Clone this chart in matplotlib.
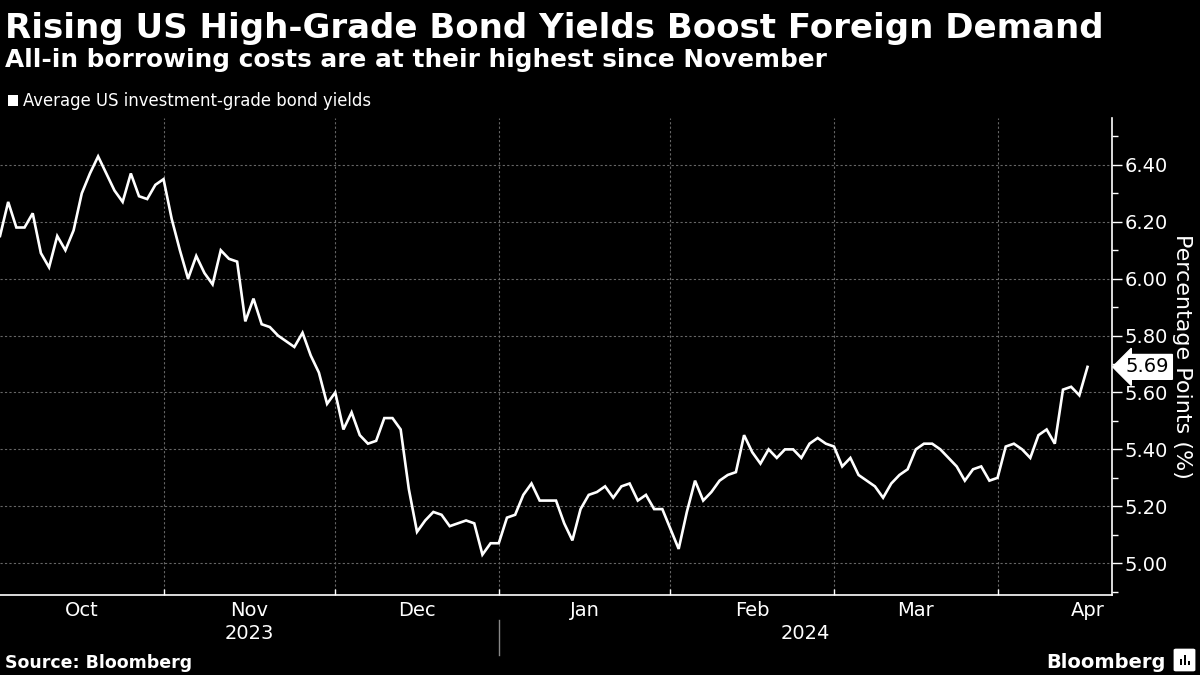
import matplotlib
matplotlib.use("Agg")
import matplotlib.pyplot as plt
from matplotlib.patches import FancyBboxPatch, Rectangle
import matplotlib.transforms as mtransforms

# Average US investment-grade bond yields, one point per trading day (Oct 2023 - mid Apr 2024)
yields = [
    6.15, 6.27, 6.18, 6.18, 6.23, 6.09, 6.04, 6.15, 6.10, 6.17,
    6.30, 6.37, 6.43, 6.37, 6.31, 6.27, 6.37, 6.29, 6.28, 6.33,
    6.35, 6.21, 6.10, 6.00, 6.08, 6.02, 5.98, 6.10, 6.07, 6.06,
    5.85, 5.93, 5.84, 5.83, 5.80, 5.78, 5.76, 5.81, 5.73, 5.67,
    5.56, 5.60, 5.47, 5.53, 5.45, 5.42, 5.43, 5.51, 5.51, 5.47,
    5.26, 5.11, 5.15, 5.18, 5.17, 5.13, 5.14, 5.15, 5.14, 5.03,
    5.07, 5.07, 5.16, 5.17, 5.24, 5.28, 5.22, 5.22, 5.22, 5.14,
    5.08, 5.19, 5.24, 5.25, 5.27, 5.23, 5.27, 5.28, 5.22, 5.24,
    5.19, 5.19, 5.12, 5.05, 5.18, 5.29, 5.22, 5.25, 5.29, 5.31,
    5.32, 5.45, 5.39, 5.35, 5.40, 5.37, 5.40, 5.40, 5.37, 5.42,
    5.44, 5.42, 5.41, 5.34, 5.37, 5.31, 5.29, 5.27, 5.23, 5.28,
    5.31, 5.33, 5.40, 5.42, 5.42, 5.40, 5.37, 5.34, 5.29, 5.33,
    5.34, 5.29, 5.30, 5.41, 5.42, 5.40, 5.37, 5.45, 5.47, 5.42,
    5.61, 5.62, 5.59, 5.69,
]

# trading-day index where each month starts (last entry = end of April)
month_starts = [0, 20, 41, 61, 82, 102, 122, 144]
month_names = ["Oct", "Nov", "Dec", "Jan", "Feb", "Mar", "Apr"]
year_names = ["2023", "2024"]
year_split = 61

y_ticks = [5.00, 5.20, 5.40, 5.60, 5.80, 6.00, 6.20, 6.40]

BG = "black"
FG = "white"
GRID = "#666666"

plt.rcParams["font.family"] = ["DejaVu Sans"]

fig = plt.figure(figsize=(12, 6.75), dpi=100, facecolor=BG)
ax = fig.add_axes([0.0, 0.1185, 0.9267, 0.7067], facecolor=BG)

xs = list(range(len(yields)))
ax.plot(xs, yields, color=FG, lw=1.9, solid_joinstyle="miter", zorder=3)

x_max = 136.0
ax.set_xlim(0, x_max)
ax.set_ylim(4.888, 6.565)

# y axis on the right
ax.yaxis.tick_right()
ax.yaxis.set_label_position("right")
ax.set_yticks(y_ticks)
ax.set_yticklabels([f"{v:.2f}" for v in y_ticks])
ax.set_yticks([v + 0.1 for v in [4.8] + y_ticks], minor=True)
ax.tick_params(axis="y", which="major", colors=FG, labelcolor=FG, labelsize=14,
               length=7, width=1, pad=2, direction="out")
ax.tick_params(axis="y", which="minor", colors=FG, length=4, width=1, direction="out")
ax.set_ylabel("Percentage Points (%)", color=FG, fontsize=16, rotation=270,
              labelpad=17)

# x axis: boundaries as major ticks, month names centred as minor ticks
bounds = month_starts[1:-1]
centres = [(month_starts[i] + month_starts[i + 1]) / 2 for i in range(len(month_names))]
ax.set_xticks(bounds)
ax.set_xticklabels([])
ax.set_xticks(centres, minor=True)
ax.set_xticklabels(month_names, minor=True)
ax.tick_params(axis="x", which="major", colors=FG, length=4, width=1, direction="in")
ax.tick_params(axis="x", which="minor", length=0, labelcolor=FG, labelsize=14, pad=4)

ax.grid(True, which="major", color=GRID, linestyle=(0, (2, 2)), linewidth=0.8)
ax.set_axisbelow(True)

for side in ["left", "top"]:
    ax.spines[side].set_visible(False)
for side in ["right", "bottom"]:
    ax.spines[side].set_color(FG)
    ax.spines[side].set_linewidth(1.2)

# years under the month labels
trans = mtransforms.blended_transform_factory(ax.transData, ax.transAxes)
ax.text((0 + year_split) / 2, -0.08, year_names[0], transform=trans, ha="center",
        va="center", color=FG, fontsize=14)
ax.text((year_split + x_max) / 2, -0.08, year_names[1], transform=trans, ha="center",
        va="center", color=FG, fontsize=14)
ax.plot([year_split, year_split], [-0.052, -0.126], transform=trans, color="#888888",
        lw=1, clip_on=False)

# last value tag
last = yields[-1]
ax.annotate(f"{last:.2f}", xy=(1.0, last), xycoords=("axes fraction", "data"),
            xytext=(10, 0), textcoords="offset points", ha="left", va="center",
            color="black", fontsize=14,
            bbox=dict(boxstyle="larrow,pad=0.15", fc="white", ec="white"))

# titles and legend
fig.text(0.004, 0.9437, "Rising US High-Grade Bond Yields Boost Foreign Demand",
         color=FG, fontsize=24.5, fontweight="bold", va="baseline", ha="left")
fig.text(0.004, 0.9007, "All-in borrowing costs are at their highest since November",
         color=FG, fontsize=17.8, fontweight="bold", va="baseline", ha="left")
fig.patches.append(Rectangle((8 / 1200, 1 - 106 / 675), 10 / 1200, 11 / 675,
                             transform=fig.transFigure, fc=FG, ec="none"))
fig.text(23 / 1200, 1 - 101 / 675, "Average US investment-grade bond yields",
         color=FG, fontsize=11.9, va="center", ha="left")

# footer
fig.text(0.004, 1 - 668 / 675, "Source: Bloomberg", color=FG, fontsize=12.5,
         fontweight="bold", va="baseline", ha="left")
fig.text(1166 / 1200, 1 - 668 / 675, "Bloomberg", color=FG, fontsize=14,
         fontweight="bold", va="baseline", ha="right")
fig.patches.append(FancyBboxPatch((1176 / 1200, 1 - 670 / 675), 17 / 1200, 20 / 675,
                                  boxstyle="round,pad=0.002", transform=fig.transFigure,
                                  fc=FG, ec="none"))
for bx, bh in [(1180, 6), (1184, 10), (1188, 4)]:
    fig.patches.append(Rectangle((bx / 1200, 1 - 665 / 675), 2 / 1200, bh / 675,
                                 transform=fig.transFigure, fc=BG, ec="none"))

fig.savefig("out.png", dpi=100, facecolor=BG)
